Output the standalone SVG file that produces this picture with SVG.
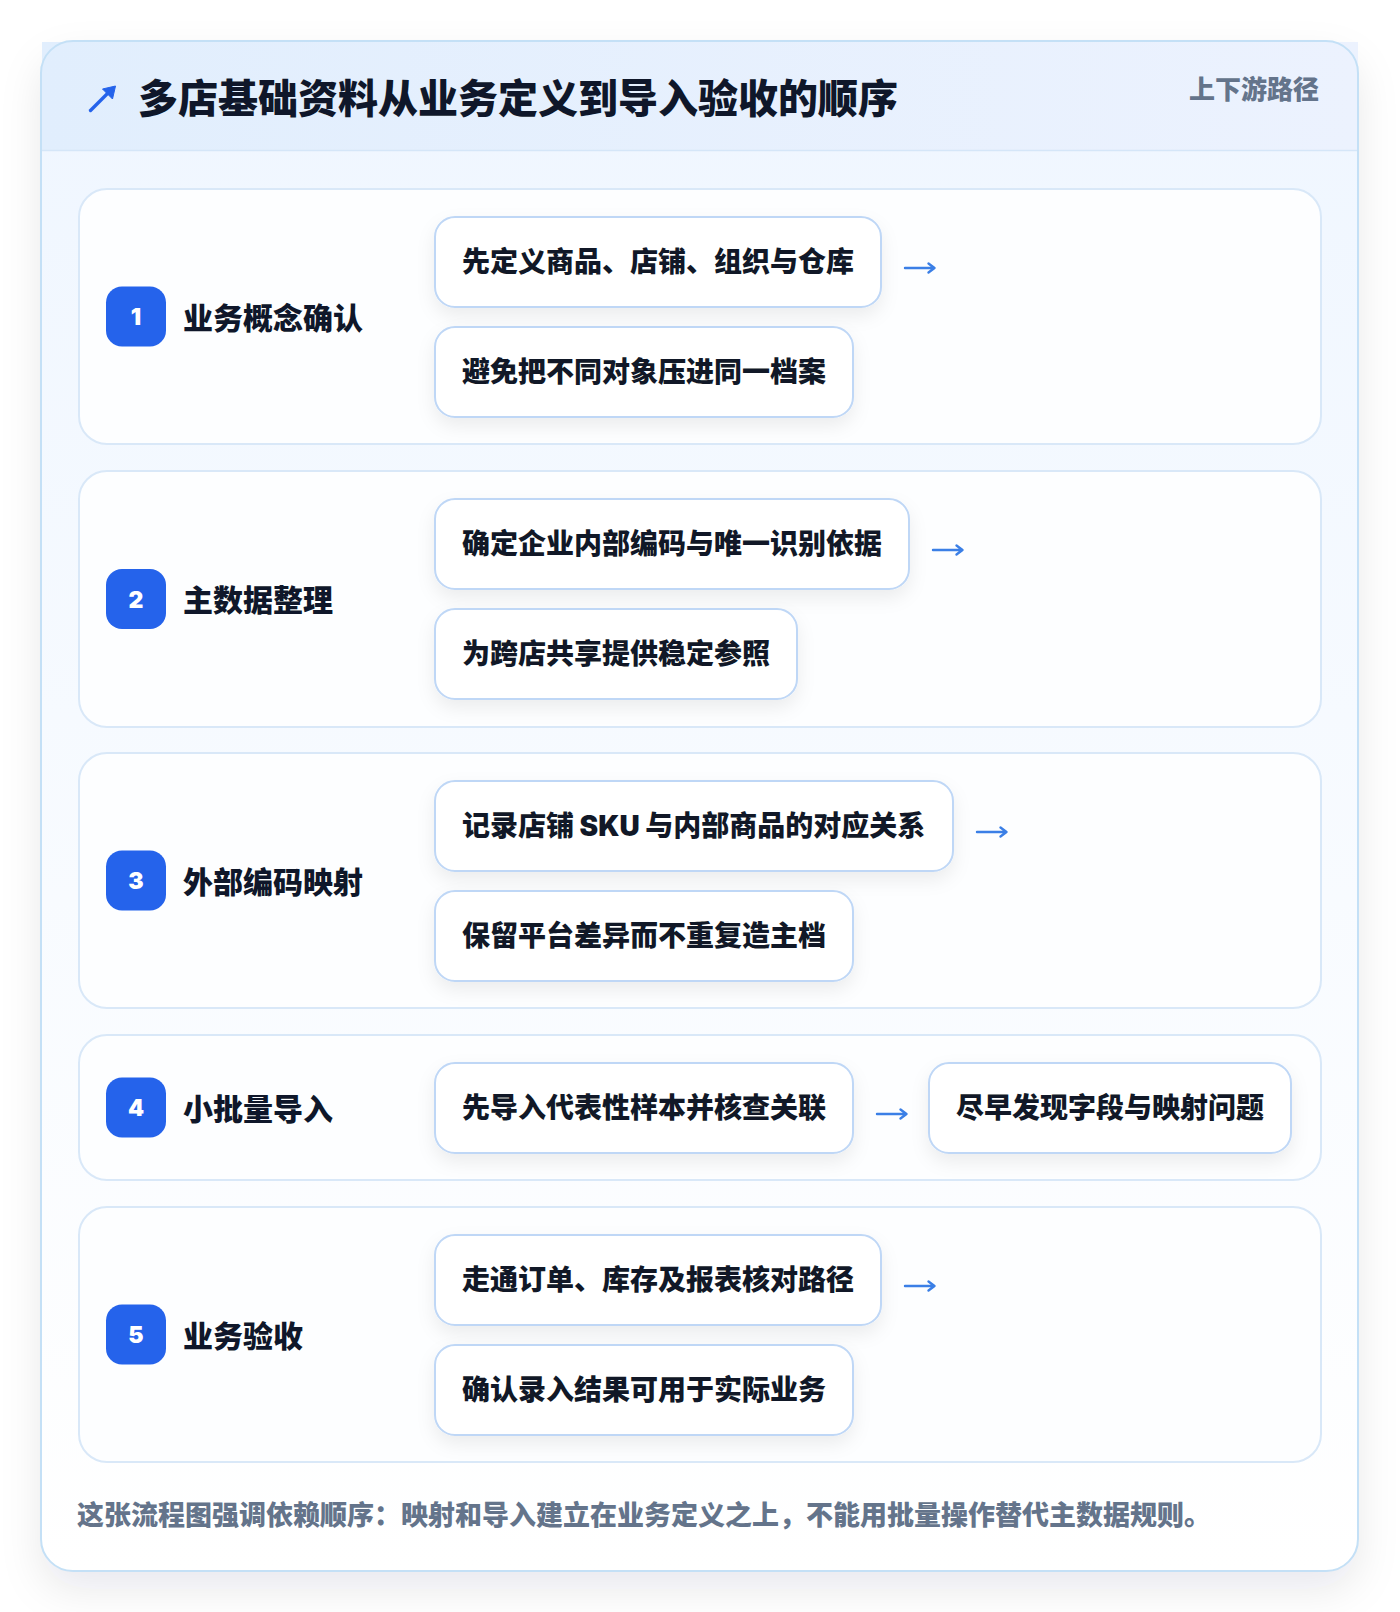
<svg xmlns="http://www.w3.org/2000/svg" width="1400" height="1612" viewBox="0 0 1400 1612">
  <defs>
    <linearGradient id="cardBg" x1="0" y1="0" x2="0" y2="1">
      <stop offset="0" stop-color="#eff6ff"/>
      <stop offset="1" stop-color="#ffffff"/>
    </linearGradient>
    <linearGradient id="headBg" x1="0" y1="0" x2="1" y2="0">
      <stop offset="0" stop-color="#e1eefd"/>
      <stop offset="1" stop-color="#ecf2fe"/>
    </linearGradient>
    <filter id="cardShadow" x="-10%" y="-10%" width="120%" height="120%">
      <feDropShadow dx="0" dy="18" stdDeviation="20" flood-color="#0f172a" flood-opacity="0.09"/>
    </filter>
    <filter id="pillShadow" x="-20%" y="-40%" width="140%" height="190%">
      <feDropShadow dx="0" dy="8" stdDeviation="9" flood-color="#0f172a" flood-opacity="0.07"/>
    </filter>
    <style>
      .cjk { font-family: "Noto Sans CJK SC", "Noto Sans", sans-serif; font-weight: 900; }
      .title { font-size: 40px; fill: #0f172a; }
      .sub { font-size: 26px; fill: #64748b; }
      .row { fill: #fdfeff; stroke: #d9e8f8; stroke-width: 2; }
      .badge { fill: #2563eb; }
      .num { font-family: Inter, "Liberation Sans", sans-serif; font-weight: 900; font-size: 23px; fill: #ffffff; text-anchor: middle; }
      .label { font-size: 30px; fill: #0f172a; }
      .pill { fill: #ffffff; stroke: #bfd7f6; stroke-width: 2; filter: url(#pillShadow); }
      .ptext { font-size: 28px; fill: #111827; }
      .lat { font-family: Inter, "Liberation Sans", sans-serif; font-weight: 900; }
      .arrow { fill: none; stroke: #3b7fe6; stroke-width: 2.4; stroke-linecap: round; stroke-linejoin: round; }
      .foot { font-size: 27px; fill: #64748b; }
    </style>
  </defs>

  <rect x="0" y="0" width="1400" height="1612" fill="#ffffff"/>

  <g id="card">
    <rect x="41" y="41" width="1317" height="1530" rx="32" fill="url(#cardBg)" filter="url(#cardShadow)"/>
    <rect x="42" y="42" width="1316" height="109" fill="url(#headBg)"/>
    <line x1="42" y1="150.5" x2="1358" y2="150.5" stroke="#d5e6f8" stroke-width="1.5"/>
    <rect x="41" y="41" width="1317" height="1530" rx="32" fill="none" stroke="#c4e0f6" stroke-width="2"/>
  </g>

  <g id="header">
    <g id="title-icon" fill="#2563eb" stroke="#2563eb">
      <line x1="90.5" y1="110.5" x2="109" y2="92" stroke-width="3.4" stroke-linecap="round"/>
      <polygon points="115.5,86 112.5,99 102.5,89" stroke-width="1" stroke-linejoin="round"/>
    </g>
    <text class="cjk title" x="138" y="113">多店基础资料从业务定义到导入验收的顺序</text>
    <text class="cjk sub" x="1319" y="99" text-anchor="end">上下游路径</text>
  </g>

  <g id="step-1">
    <rect class="row" x="79" y="189" width="1242" height="255" rx="28"/>
    <rect class="badge" x="106" y="286.5" width="60" height="60" rx="16"/>
    <text class="num" x="136" y="325">1</text>
    <text class="cjk label" x="183" y="328.5">业务概念确认</text>
    <g id="n1a">
      <rect class="pill" x="435" y="217" width="446" height="90" rx="20"/>
      <text class="cjk ptext" x="462" y="271.5">先定义商品、店铺、组织与仓库</text>
    </g>
    <g id="n1b">
      <rect class="pill" x="435" y="327" width="418" height="90" rx="20"/>
      <text class="cjk ptext" x="462" y="381.5">避免把不同对象压进同一档案</text>
    </g>
  </g>

  <g id="step-2">
    <rect class="row" x="79" y="471" width="1242" height="256" rx="28"/>
    <rect class="badge" x="106" y="569" width="60" height="60" rx="16"/>
    <text class="num" x="136" y="607.5">2</text>
    <text class="cjk label" x="183" y="611">主数据整理</text>
    <g id="n2a">
      <rect class="pill" x="435" y="499" width="474" height="90" rx="20"/>
      <text class="cjk ptext" x="462" y="553.5">确定企业内部编码与唯一识别依据</text>
    </g>
    <g id="n2b">
      <rect class="pill" x="435" y="609" width="362" height="90" rx="20"/>
      <text class="cjk ptext" x="462" y="663.5">为跨店共享提供稳定参照</text>
    </g>
  </g>

  <g id="step-3">
    <rect class="row" x="79" y="753" width="1242" height="255" rx="28"/>
    <rect class="badge" x="106" y="850.5" width="60" height="60" rx="16"/>
    <text class="num" x="136" y="889">3</text>
    <text class="cjk label" x="183" y="892.5">外部编码映射</text>
    <g id="n3a">
      <rect class="pill" x="435" y="781" width="518" height="90" rx="20"/>
      <text class="cjk ptext" x="462" y="835.5">记录店铺<tspan class="lat"> SKU </tspan>与内部商品的对应关系</text>
    </g>
    <g id="n3b">
      <rect class="pill" x="435" y="891" width="418" height="90" rx="20"/>
      <text class="cjk ptext" x="462" y="945.5">保留平台差异而不重复造主档</text>
    </g>
  </g>

  <g id="step-4">
    <rect class="row" x="79" y="1035" width="1242" height="145" rx="28"/>
    <rect class="badge" x="106" y="1077.5" width="60" height="60" rx="16"/>
    <text class="num" x="136" y="1116">4</text>
    <text class="cjk label" x="183" y="1119.5">小批量导入</text>
    <g id="n4a">
      <rect class="pill" x="435" y="1063" width="418" height="90" rx="20"/>
      <text class="cjk ptext" x="462" y="1117.5">先导入代表性样本并核查关联</text>
    </g>
    <g id="n4b">
      <rect class="pill" x="929" y="1063" width="362" height="90" rx="20"/>
      <text class="cjk ptext" x="956" y="1117.5">尽早发现字段与映射问题</text>
    </g>
  </g>

  <g id="step-5">
    <rect class="row" x="79" y="1207" width="1242" height="255" rx="28"/>
    <rect class="badge" x="106" y="1304.5" width="60" height="60" rx="16"/>
    <text class="num" x="136" y="1343">5</text>
    <text class="cjk label" x="183" y="1346.5">业务验收</text>
    <g id="n5a">
      <rect class="pill" x="435" y="1235" width="446" height="90" rx="20"/>
      <text class="cjk ptext" x="462" y="1289.5">走通订单、库存及报表核对路径</text>
    </g>
    <g id="n5b">
      <rect class="pill" x="435" y="1345" width="418" height="90" rx="20"/>
      <text class="cjk ptext" x="462" y="1399.5">确认录入结果可用于实际业务</text>
    </g>
  </g>

  <g id="connectors">
    <path class="arrow" d="M905 268 H934 M928.5 263.5 L934.5 268 L928.5 272.5"/>
    <path class="arrow" d="M933 550 H962 M956.5 545.5 L962.5 550 L956.5 554.5"/>
    <path class="arrow" d="M977 832 H1006 M1000.5 827.5 L1006.5 832 L1000.5 836.5"/>
    <path class="arrow" d="M877 1114 H906 M900.5 1109.5 L906.5 1114 L900.5 1118.5"/>
    <path class="arrow" d="M905 1286 H934 M928.5 1281.5 L934.5 1286 L928.5 1290.5"/>
  </g>

  <g id="footer">
    <text class="cjk foot" x="77" y="1525">这张流程图强调依赖顺序：映射和导入建立在业务定义之上，不能用批量操作替代主数据规则。</text>
  </g>
</svg>
